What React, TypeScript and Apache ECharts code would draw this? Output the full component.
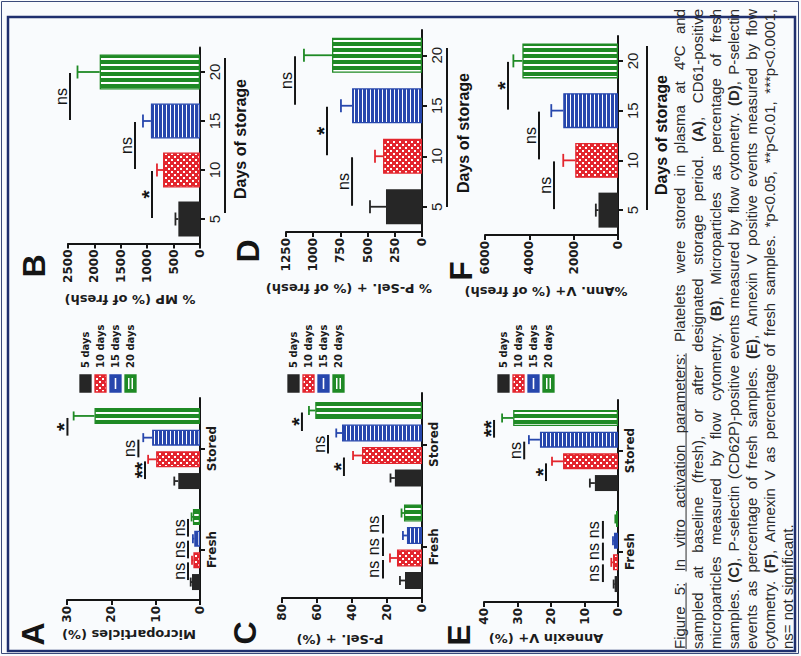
import { useEffect, useRef } from 'react';
import * as echarts from 'echarts';

// ---------------- data ----------------
const DAYS = ['5', '10', '15', '20'];
const GROUPS = ['Fresh', 'Stored'];
const LEGEND_NAMES = ['5 days', '10 days', '15 days', '20 days'];
const SIG_TEXT = ['ns', '*', '**'];

// A: Microparticles (%)  [5d, 10d, 15d, 20d]
const A_FRESH = [1.8, 1.5, 1.3, 1.6];
const A_FRESH_ERR = [0.3, 0.3, 0.3, 0.3];
const A_STORED = [4.9, 9.9, 10.8, 23.8];
const A_STORED_ERR = [0.9, 1.8, 2.0, 4.7];
// [line value, category, bar from, bar to, label index]
const A_SIG = [[2.7, 0, 0, 1, 0], [2.7, 0, 1, 2, 0], [2.7, 0, 2, 3, 0], [12.4, 1, 0, 1, 2], [13.9, 1, 1, 2, 0], [29.9, 1, 2, 3, 1]];
const A_AXIS = [30, 10];

// B: % MP (% of fresh)
const B_VALUES = [410, 700, 930, 1900];
const B_ERR = [55, 115, 150, 420];
// [line value, day from, day to, label index]
const B_SIG = [[909, 0, 1, 1], [1231, 1, 2, 0], [2462, 2, 3, 0]];
const B_AXIS = [2500, 500];

// C: P-Sel. + (%)
const C_FRESH = [9.7, 14.3, 8.6, 10.3];
const C_FRESH_ERR = [2.9, 4.0, 2.3, 1.4];
const C_STORED = [15.5, 34.3, 45.7, 61.0];
const C_STORED_ERR = [2.5, 5.1, 3.3, 3.6];
const C_SIG = [[22.3, 0, 0, 1, 0], [22.3, 0, 1, 2, 0], [22.3, 0, 2, 3, 0], [44.6, 1, 0, 1, 1], [53.7, 1, 1, 2, 0], [68.6, 1, 2, 3, 1]];
const C_AXIS = [80, 20];

// D: % P-Sel. + (% of fresh)
const D_VALUES = [331, 358, 643, 827];
const D_ERR = [147, 74, 102, 258];
const D_SIG = [[643, 0, 1, 0], [873, 1, 2, 1], [1167, 2, 3, 0]];
const D_AXIS = [1250, 250];

// E: Annexin V+ (%)
const E_FRESH = [1.0, 1.5, 1.2, 0.6];
const E_FRESH_ERR = [0.3, 0.5, 0.3, 0.2];
const E_STORED = [6.9, 16.4, 23.3, 31.3];
const E_STORED_ERR = [1.5, 3.3, 3.3, 3.3];
const E_SIG = [[4.5, 0, 0, 1, 0], [4.5, 0, 1, 2, 0], [4.5, 0, 2, 3, 0], [21.5, 1, 0, 1, 1], [28, 1, 1, 2, 0], [37, 1, 2, 3, 2]];
const E_AXIS = [40, 10];

// F: %Ann. V+ (% of fresh)
const F_VALUES = [880, 1930, 2470, 4315];
const F_ERR = [120, 540, 540, 405];
const F_SIG = [[2887, 0, 1, 0], [3563, 1, 2, 0], [4962, 2, 3, 1]];
const F_AXIS = [6000, 2000];

const CAPTION_LINES = [
  'Figure 5: In vitro activation parameters: Platelets were stored in plasma at 4ºC and',
  'sampled at baseline (fresh), or after designated storage period. (A), CD61-positive',
  'microparticles measured by flow cytometry. (B), Microparticles as percentage of fresh',
  'samples. (C), P-selectin (CD62P)-positive events measured by flow cytometry. (D), P-selectin',
  'events as percentage of fresh samples. (E), Annexin V positive events measured by flow',
  'cytometry. (F), Annexin V as percentage of fresh samples. *p<0.05, **p<0.01, ***p<0.0001,',
  'ns= not significant.',
];

// ---------------- layout / style ----------------
const COLORS = ['#262626', '#e3262e', '#2747ad', '#1f8a25'];
const INK = '#151515';
const SANS = '"Liberation Sans", Arial, sans-serif';
const WIDE = '"DejaVu Sans", sans-serif';

const PANELS: any[] = [
  { letter: 'A', kind: 'group', axis: A_AXIS, fresh: A_FRESH, freshErr: A_FRESH_ERR, stored: A_STORED, storedErr: A_STORED_ERR, sig: A_SIG,
    box: [67, 398, 133, 202], barW: 16, gap: 5.7, title: 'Microparticles (%)', titleAt: [129, 634], letterAt: [33, 634] },
  { letter: 'B', kind: 'days', axis: B_AXIS, values: B_VALUES, err: B_ERR, sig: B_SIG,
    box: [68, 47.5, 132, 196], barW: 35, title: '% MP (% of fresh)', titleAt: [130, 299], letterAt: [34, 266],
    daysAt: [240, 139], daysLine: [225, 58, 213] },
  { letter: 'C', kind: 'group', axis: C_AXIS, fresh: C_FRESH, freshErr: C_FRESH_ERR, stored: C_STORED, storedErr: C_STORED_ERR, sig: C_SIG,
    box: [282, 393, 140, 205], barW: 17, gap: 5.5, title: 'P-Sel. + (%)', titleAt: [340, 639], letterAt: [245, 633] },
  { letter: 'D', kind: 'days', axis: D_AXIS, values: D_VALUES, err: D_ERR, sig: D_SIG,
    box: [286, 30, 136, 202], barW: 35, title: '% P-Sel. + (% of fresh)', titleAt: [349, 288], letterAt: [248, 251],
    daysAt: [463, 133], daysLine: [447, 48, 207] },
  { letter: 'E', kind: 'group', axis: E_AXIS, fresh: E_FRESH, freshErr: E_FRESH_ERR, stored: E_STORED, storedErr: E_STORED_ERR, sig: E_SIG,
    box: [484, 400, 134, 202], barW: 16, gap: 5.7, title: 'Annexin V+ (%)', titleAt: [546, 638], letterAt: [459, 635] },
  { letter: 'F', kind: 'days', axis: F_AXIS, values: F_VALUES, err: F_ERR, sig: F_SIG,
    box: [485, 36, 133, 199], barW: 35, title: '%Ann. V+ (% of fresh)', titleAt: [546, 291], letterAt: [461, 271],
    daysAt: [661, 135], daysLine: [647, 46, 210] },
];

const LEGEND_X = [80, 288, 498];
const LEGEND_Y = 375;
const CAP = { x0: 679, dx: 18.1, yStart: 649, yEnd: 9 };

function makeTile(kind: string) {
  const c = document.createElement('canvas');
  const g = c.getContext('2d') as CanvasRenderingContext2D;
  if (kind === 'red') {
    c.width = 6; c.height = 6;
    g.fillStyle = COLORS[1]; g.fillRect(0, 0, 6, 6);
    g.fillStyle = '#ffffff'; g.fillRect(0, 0, 2, 2); g.fillRect(3, 3, 2, 2);
  } else if (kind === 'blue') {
    c.width = 4; c.height = 4;
    g.fillStyle = COLORS[2]; g.fillRect(0, 0, 4, 4);
    g.fillStyle = '#ffffff'; g.fillRect(2, 0, 1, 4);
  } else {
    c.width = 4; c.height = 6;
    g.fillStyle = COLORS[3]; g.fillRect(0, 0, 4, 6);
    g.fillStyle = '#ffffff'; g.fillRect(0, 4, 4, 2);
  }
  return { image: c, repeat: 'repeat', imageWidth: c.width, imageHeight: c.height };
}

function captionElements() {
  const cv = document.createElement('canvas');
  const ctx = cv.getContext('2d') as CanvasRenderingContext2D;
  const span = CAP.yStart - CAP.yEnd;
  ctx.font = `14px ${SANS}`;
  let maxW = 0;
  CAPTION_LINES.forEach((l) => { maxW = Math.max(maxW, ctx.measureText(l).width); });
  const fs = Math.max(12, Math.min(15, (14 * span) / maxW * 0.99));
  const normal = `${fs}px ${SANS}`;
  const bold = `bold ${fs}px ${SANS}`;
  const els: any[] = [];
  CAPTION_LINES.forEach((line, li) => {
    const x = CAP.x0 + li * CAP.dx;
    const words = line.split(' ');
    const parts = words.map((w) => {
      const m = w.match(/^(\([A-F]\))(.*)$/);
      return m ? [[m[1], true], [m[2], false]] : [[w, false]];
    });
    const widths = parts.map((segs: any[]) => segs.reduce((s: number, [t, b]: any) => {
      ctx.font = b ? bold : normal; return s + ctx.measureText(t).width;
    }, 0));
    const total = widths.reduce((a: number, b: number) => a + b, 0);
    ctx.font = normal;
    const sp = ctx.measureText(' ').width;
    const last = li === CAPTION_LINES.length - 1;
    const gap = last ? sp : (span - total) / (words.length - 1);
    let pos = 0;
    const starts: number[] = [];
    parts.forEach((segs: any[], wi: number) => {
      starts.push(pos);
      let p = pos;
      segs.forEach(([t, b]: any) => {
        if (!t) return;
        ctx.font = b ? bold : normal;
        els.push({ type: 'text', x, y: CAP.yStart - p, rotation: Math.PI / 2, silent: true,
          style: { text: t, font: b ? bold : normal, fill: '#2a2a2a', textAlign: 'left', textVerticalAlign: 'middle' } });
        p += ctx.measureText(t).width;
      });
      pos += widths[wi] + gap;
    });
    if (li === 0) {
      [[0, 1], [2, 5]].forEach(([a, b]) => {
        els.push({ type: 'line', silent: true,
          shape: { x1: x + fs * 0.47, y1: CAP.yStart - starts[a], x2: x + fs * 0.47, y2: CAP.yStart - (starts[b] + widths[b]) },
          style: { stroke: '#2a2a2a', lineWidth: 1 } });
      });
    }
  });
  return els;
}

function buildOption() {
  const fills = [COLORS[0], makeTile('red'), makeTile('blue'), makeTile('green')];
  const grids: any[] = [];
  const xAxes: any[] = [];
  const yAxes: any[] = [];
  const series: any[] = [];
  const graphic: any[] = [];

  const barStyle = (k: number) => ({ color: fills[k], borderColor: COLORS[k], borderWidth: k === 0 ? 0 : 1.3 });

  PANELS.forEach((p, i) => {
    const [max, interval] = p.axis;
    grids.push({ left: p.box[0], top: p.box[1], width: p.box[2], height: p.box[3], containLabel: false, outerBoundsMode: 'none' });
    xAxes.push({
      type: 'value', gridIndex: i, inverse: true, min: 0, max, interval, position: 'bottom',
      axisLine: { show: true, onZero: false, lineStyle: { color: INK, width: 2 } },
      axisTick: { show: true, length: 5, lineStyle: { color: INK, width: 2 } },
      splitLine: { show: false },
      axisLabel: { rotate: 90, margin: 6, fontFamily: WIDE, fontWeight: 'bold', fontSize: 12, color: '#1c1c1c', formatter: (v: number) => String(v) },
    });
    const isGroup = p.kind === 'group';
    yAxes.push({
      type: 'category', gridIndex: i, data: isGroup ? GROUPS : DAYS, position: 'right',
      axisLine: { show: true, onZero: false, lineStyle: { color: INK, width: 2 } },
      axisTick: { show: true, alignWithLabel: true, length: 5, lineStyle: { color: INK, width: 2 } },
      splitLine: { show: false },
      axisLabel: isGroup
        ? { rotate: 90, margin: 6, interval: 0, fontFamily: WIDE, fontWeight: 'bold', fontSize: 12, color: '#1c1c1c' }
        : { rotate: 90, margin: 7, interval: 0, fontFamily: SANS, fontSize: 15, color: '#1c1c1c' },
    });

    let slot = (_k: number) => 0;
    const errData: any[] = [];
    let sigData: any[] = [];
    const cap = isGroup ? 9 : 13;
    if (isGroup) {
      const bw = p.barW, gap = p.gap;
      const total = 4 * bw + 3 * gap;
      slot = (k: number) => -total / 2 + (3 - k) * (bw + gap) + bw / 2;
      [3, 2, 1, 0].forEach((k) => {
        series.push({
          type: 'bar', name: LEGEND_NAMES[k], xAxisIndex: i, yAxisIndex: i, barWidth: bw, barGap: `${(gap / bw) * 100}%`,
          data: [p.fresh[k], p.stored[k]], itemStyle: barStyle(k), silent: true, z: 2,
        });
      });
      [0, 1].forEach((c) => {
        const vals = c === 0 ? p.fresh : p.stored;
        const errs = c === 0 ? p.freshErr : p.storedErr;
        [0, 1, 2, 3].forEach((k) => errData.push([vals[k], c, errs[k], k]));
      });
      sigData = p.sig.map(([v, c, k1, k2, l]: number[]) => [v, c, k1, c, k2, l]);
    } else {
      series.push({
        type: 'bar', xAxisIndex: i, yAxisIndex: i, barWidth: p.barW, silent: true, z: 2,
        data: p.values.map((v: number, k: number) => ({ value: v, itemStyle: barStyle(k) })),
      });
      p.values.forEach((v: number, k: number) => errData.push([v, k, p.err[k], k]));
      sigData = p.sig.map(([v, c1, c2, l]: number[]) => [v, c1, 0, c2, 0, l]);
    }
    const shrink = isGroup ? 2 : 1;

    series.push({
      type: 'custom', xAxisIndex: i, yAxisIndex: i, coordinateSystem: 'cartesian2d', encode: { x: 0, y: 1 }, silent: true, z: 3, clip: false,
      data: errData,
      renderItem: (_params: any, api: any) => {
        const v = api.value(0), c = api.value(1), e = api.value(2), k = api.value(3);
        const a = api.coord([v, c]);
        const b = api.coord([v + e, c]);
        const y = a[1] + slot(k);
        const col = COLORS[k];
        return { type: 'group', children: [
          { type: 'line', shape: { x1: a[0], y1: y, x2: b[0], y2: y }, style: { stroke: col, lineWidth: 1.8 } },
          { type: 'line', shape: { x1: b[0], y1: y - cap / 2, x2: b[0], y2: y + cap / 2 }, style: { stroke: col, lineWidth: 1.8 } },
        ] };
      },
    });
    series.push({
      type: 'custom', xAxisIndex: i, yAxisIndex: i, coordinateSystem: 'cartesian2d', encode: { x: 0, y: 1 }, silent: true, z: 3, clip: false,
      data: sigData,
      renderItem: (_params: any, api: any) => {
        const v = api.value(0);
        const p1 = api.coord([v, api.value(1)]);
        const p2 = api.coord([v, api.value(3)]);
        const y1 = p1[1] + slot(api.value(2));
        const y2 = p2[1] + slot(api.value(4));
        const lo = Math.min(y1, y2) + shrink;
        const hi = Math.max(y1, y2) - shrink;
        const x = p1[0];
        const label = SIG_TEXT[api.value(5)];
        const star = label !== 'ns';
        return { type: 'group', children: [
          { type: 'line', shape: { x1: x, y1: lo, x2: x, y2: hi }, style: { stroke: INK, lineWidth: 2 } },
          { type: 'text', x: x - (star ? 3.5 : 9), y: (lo + hi) / 2, rotation: Math.PI / 2,
            style: { text: label, font: star ? `bold 21px ${SANS}` : `16px ${SANS}`, fill: INK, textAlign: 'center', textVerticalAlign: 'middle' } },
        ] };
      },
    });

    // panel letter
    graphic.push({ type: 'text', x: p.letterAt[0], y: p.letterAt[1], rotation: Math.PI / 2, silent: true,
      style: { text: p.letter, font: `bold 32px ${SANS}`, fill: INK, textAlign: 'center', textVerticalAlign: 'middle' } });
    // value-axis title (upside down)
    graphic.push({ type: 'text', x: p.titleAt[0], y: p.titleAt[1], rotation: Math.PI, silent: true,
      style: { text: p.title, font: `bold 13px ${WIDE}`, fill: '#1c1c1c', textAlign: 'center', textVerticalAlign: 'middle' } });
    if (!isGroup) {
      graphic.push({ type: 'text', x: p.daysAt[0], y: p.daysAt[1], rotation: Math.PI / 2, silent: true,
        style: { text: 'Days of storage', font: `bold 16px ${SANS}`, fill: INK, textAlign: 'center', textVerticalAlign: 'middle' } });
      graphic.push({ type: 'line', silent: true, shape: { x1: p.daysLine[0], y1: p.daysLine[1], x2: p.daysLine[0], y2: p.daysLine[2] },
        style: { stroke: INK, lineWidth: 2 } });
    }
  });

  // legends
  LEGEND_X.forEach((x0) => {
    LEGEND_NAMES.forEach((name, k) => {
      const x = x0 + 15 * k;
      graphic.push({ type: 'rect', silent: true, shape: { x, y: LEGEND_Y, width: 11, height: 17 },
        style: { fill: k === 1 ? fills[1] : COLORS[k], stroke: COLORS[k], lineWidth: 1.3 } });
      if (k === 2) {
        graphic.push({ type: 'rect', silent: true, shape: { x: x + 4.7, y: LEGEND_Y + 3, width: 1.6, height: 11 }, style: { fill: '#ffffff' } });
      }
      if (k === 3) {
        graphic.push({ type: 'rect', silent: true, shape: { x: x + 3, y: LEGEND_Y + 3, width: 1.5, height: 11 }, style: { fill: '#ffffff' } });
        graphic.push({ type: 'rect', silent: true, shape: { x: x + 6.5, y: LEGEND_Y + 3, width: 1.5, height: 11 }, style: { fill: '#ffffff' } });
      }
      graphic.push({ type: 'text', x: x + 5.5, y: LEGEND_Y - 7, rotation: Math.PI / 2, silent: true,
        style: { text: name, font: `bold 10px ${WIDE}`, fill: '#1c1c1c', textAlign: 'left', textVerticalAlign: 'middle' } });
    });
  });

  // frames
  graphic.push({ type: 'rect', silent: true, shape: { x: 1.5, y: 1.5, width: 797, height: 652 }, style: { fill: 'none', stroke: '#3a4a7a', lineWidth: 1 } });
  graphic.push({ type: 'rect', silent: true, shape: { x: 8, y: 17, width: 787, height: 634 }, style: { fill: 'none', stroke: '#1f2f6e', lineWidth: 2.5 } });

  captionElements().forEach((e) => graphic.push(e));

  return {
    animation: false,
    backgroundColor: '#f9fbfd',
    grid: grids,
    xAxis: xAxes,
    yAxis: yAxes,
    series,
    graphic: { elements: graphic },
  };
}

export default function App() {
  const ref = useRef<HTMLDivElement>(null);
  useEffect(() => {
    if (!ref.current) return;
    const chart = echarts.init(ref.current, null, { renderer: 'svg', width: 801, height: 656 });
    chart.setOption(buildOption() as any);
    return () => chart.dispose();
  }, []);
  return <div ref={ref} style={{ position: 'fixed', left: 0, top: 0, width: 801, height: 656 }} />;
}
